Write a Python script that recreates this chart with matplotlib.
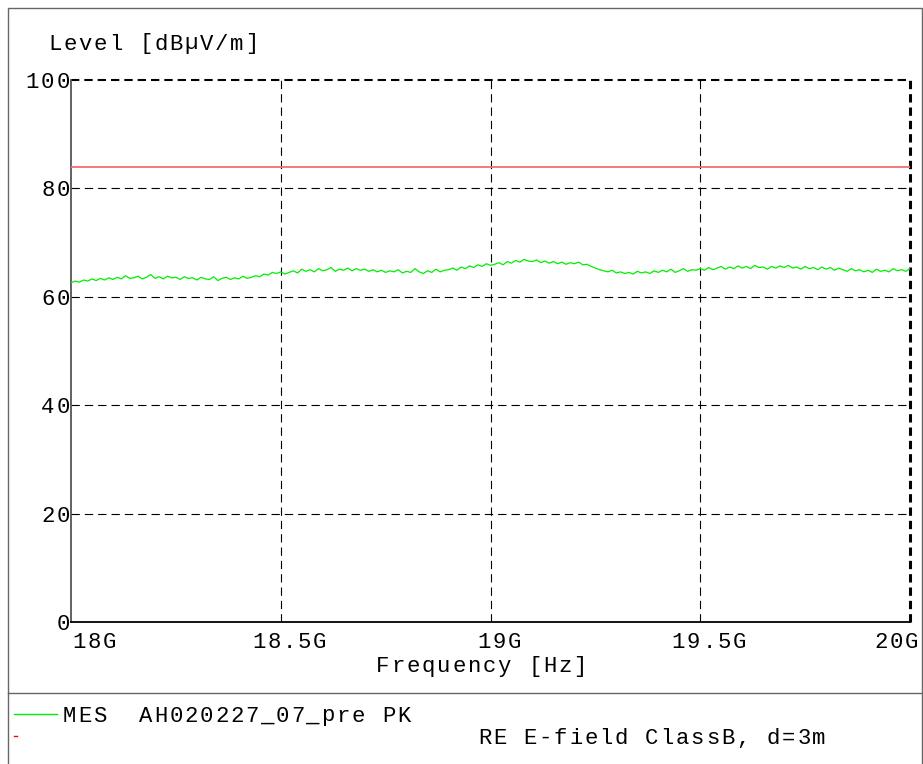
import matplotlib
matplotlib.use("Agg")
import matplotlib.pyplot as plt
from matplotlib.lines import Line2D
from matplotlib.patches import Rectangle
from matplotlib.transforms import ScaledTranslation
import numpy as np

plt.rcParams['font.family'] = ['Liberation Mono', 'DejaVu Sans Mono']
plt.rcParams['lines.scale_dashes'] = False

# Data
freq_ghz = np.round(np.arange(18.0, 20.001, 0.01), 2)
level_mes = [
    62.6, 62.9, 62.7, 63.1, 62.9, 63.3, 63.0, 63.4, 63.1, 63.5,
    63.2, 63.6, 63.3, 63.9, 63.4, 63.5, 63.8, 63.3, 63.6, 64.1,
    63.4, 63.7, 63.3, 63.8, 63.5, 63.6, 63.2, 63.7, 63.4, 63.5,
    63.1, 63.6, 63.3, 63.2, 63.7, 63.0, 63.4, 63.6, 63.2, 63.5,
    63.3, 63.8, 63.4, 63.6, 63.9, 63.7, 64.2, 64.0, 64.5, 64.3,
    64.6, 64.2, 64.5, 64.8, 64.4, 65.1, 64.7, 65.0, 64.6, 65.2,
    64.8, 65.0, 65.4, 64.7, 65.1, 64.9, 65.3, 64.8, 65.2, 64.9,
    65.1, 64.7, 65.0, 64.6, 64.9, 64.5, 64.8, 64.6, 65.0, 64.4,
    64.7, 64.5, 65.2, 64.6, 64.3, 64.8, 64.5, 65.1, 64.6, 64.9,
    65.0, 65.3, 64.9, 65.5, 65.2, 65.7, 65.4, 65.9, 65.6, 66.1,
    65.8, 66.0, 66.3, 65.9, 66.5, 66.2, 66.7, 66.4, 66.9, 66.6,
    66.5, 66.8, 66.3, 66.6, 66.2, 66.5, 66.1, 66.4, 66.0, 66.3,
    66.1, 66.4, 65.9, 66.0, 65.6, 65.3, 65.0, 64.8, 64.6, 64.9,
    64.4, 64.6, 64.3, 64.5, 64.2, 64.7, 64.4, 64.6, 64.3, 64.8,
    64.5, 64.9, 64.6, 65.1, 64.5, 64.8, 65.2, 64.7, 65.0, 64.9,
    65.2, 64.9, 65.4, 65.0, 65.3, 65.6, 65.1, 65.5, 65.2, 65.7,
    65.3, 65.6, 65.2, 65.8, 65.4, 65.5, 65.1, 65.6, 65.3, 65.7,
    65.4, 65.8, 65.3, 65.5, 65.1, 65.6, 65.2, 65.4, 65.0, 65.5,
    65.1, 65.4, 64.9, 65.3, 65.0, 64.7, 65.2, 64.8, 65.0, 64.6,
    64.9, 64.5, 65.1, 64.7, 64.9, 64.6, 65.2, 64.8, 65.0, 64.7,
    65.2,
]
limit_level = 84
xticks = [18.0, 18.5, 19.0, 19.5, 20.0]
xtick_labels = ["18G", "18.5G", "19G", "19.5G", "20G"]
yticks = [0, 20, 40, 60, 80, 100]
ytick_labels = ["0", "20", "40", "60", "80", "100"]

FS = 16
STEP = 15.2  # px per character, the original plot is widely spaced

fig = plt.figure(figsize=(9.23, 7.64), dpi=100)
ax = fig.add_axes([71/923, 1-622/764, (910-71)/923, (622-80)/764])


def spaced(x, y, s, transform, start_px=0.0, dy_px=0.0):
    # draw string char by char on a fixed pitch, starting start_px from (x, y)
    for i, ch in enumerate(s):
        off = ScaledTranslation((start_px + (i + 0.5) * STEP) / 100, dy_px / 100, fig.dpi_scale_trans)
        fig.text(x, y, ch, transform=transform + off, fontsize=FS, ha="center", va="center_baseline")


ax.plot(freq_ghz, level_mes, color="#00ee00", lw=0.9, zorder=3)
ax.axhline(limit_level, color="#f07070", lw=1.3, zorder=3)

ax.set_xlim(18, 20)
ax.set_ylim(0, 100)
ax.set_xticks(xticks)
ax.set_xticklabels([])
ax.set_yticks(yticks)
ax.set_yticklabels([])
ax.tick_params(axis="both", length=0)

dash = (0, (6, 3.6))
for y in yticks[1:-1]:
    ax.axhline(y, color="black", lw=0.8, ls=dash, zorder=1)
for x in xticks[1:-1]:
    ax.axvline(x, color="black", lw=0.8, ls=dash, zorder=1)
# top and right borders are dashed and heavier
ax.axhline(100, color="black", lw=1.5, ls=dash, clip_on=False, zorder=2)
ax.axvline(20, color="black", lw=2.2, ls=dash, clip_on=False, zorder=2)

ax.spines["top"].set_visible(False)
ax.spines["right"].set_visible(False)
ax.spines["left"].set_color("#555555")
ax.spines["left"].set_linewidth(1.3)
ax.spines["bottom"].set_color("black")
ax.spines["bottom"].set_linewidth(1.3)

# tick labels
xtr = ax.get_xaxis_transform()
for i, (t, lab) in enumerate(zip(xticks, xtick_labels)):
    n = len(lab)
    if i == 0:
        start = 0
    elif i == len(xticks) - 1:
        start = -n * STEP + 9
    else:
        start = -(n // 2) * STEP + 1
    spaced(t, 0, lab, xtr, start_px=start, dy_px=-18)
ytr = ax.get_yaxis_transform()
for t, lab in zip(yticks, ytick_labels):
    spaced(0, t, lab, ytr, start_px=-len(lab) * STEP - 0.5, dy_px=0)

# axis titles
spaced(0.5, 0, "Frequency [Hz]", ax.transAxes, start_px=-7 * STEP - 9, dy_px=-42)
spaced(0, 1 - 41.5/764, "Level [dBµV/m]", fig.transFigure, start_px=47)

# outer frame and legend box
fig.add_artist(Rectangle((8/923, -0.02), 914/923, 1.0-8/764+0.02, transform=fig.transFigure,
                         fill=False, edgecolor="#666666", lw=1.0))
fig.add_artist(Line2D([8/923, 922/923], [1-693/764]*2, transform=fig.transFigure,
                      color="#666666", lw=1.0))
fig.add_artist(Line2D([14/923, 57/923], [1-714/764]*2, transform=fig.transFigure,
                      color="#00ee00", lw=1.0))
spaced(0, 1-713.5/764, "MES  AH020227_07_pre PK", fig.transFigure, start_px=62)
fig.add_artist(Line2D([14/923, 16.5/923], [1-736/764]*2, transform=fig.transFigure,
                      color="red", lw=1.0))
spaced(0, 1-736/764, "RE E-field ClassB, d=3m", fig.transFigure, start_px=477)

fig.savefig("out.png", dpi=100)
